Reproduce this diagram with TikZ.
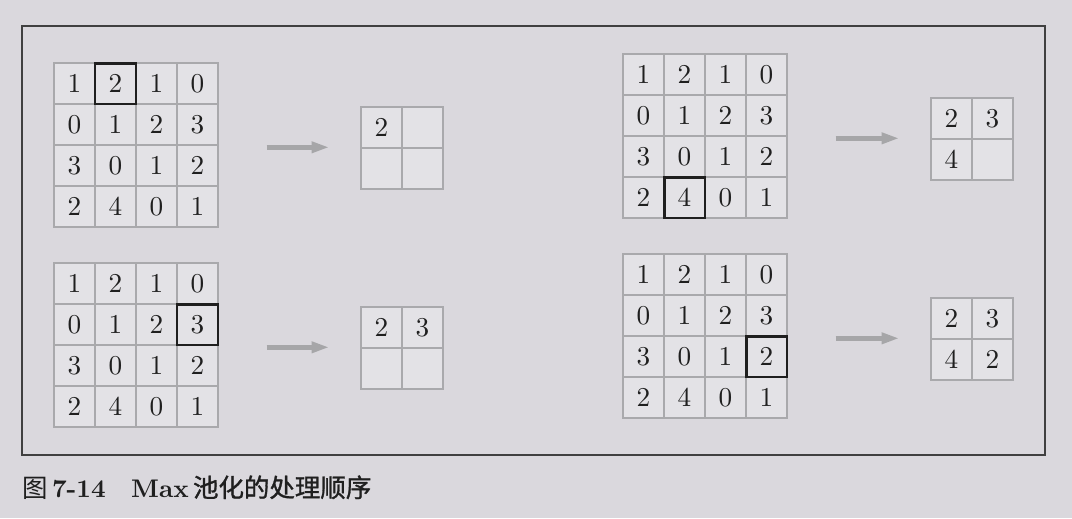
\documentclass[tikz,border=0pt]{standalone}
\usepackage{fontspec}
\newfontfamily\cjk{Noto Sans CJK SC}
\newfontfamily\cjkmid{Noto Sans CJK SC}[FakeBold=1.2]
\newfontfamily\cellfont{lmroman10-regular.otf}
\newfontfamily\capfont{lmroman10-bold.otf}
\usetikzlibrary{positioning,calc,arrows.meta}
\definecolor{bg}{HTML}{DAD8DD}
\definecolor{cellfill}{HTML}{E3E2E6}
\definecolor{gridline}{HTML}{A9A9AC}
\definecolor{arrowgray}{HTML}{A6A6A8}

\begin{document}
\begin{tikzpicture}[x=0.02cm,y=-0.02cm,
    cell/.style={draw=gridline,line width=0.8pt,fill=cellfill,minimum size=0.82cm,
                 inner sep=0pt,text=black!88,font=\cellfont\fontsize{15.5}{18}\selectfont},
    hlbox/.style={draw=black!88,line width=1.7pt,minimum size=0.82cm,inner sep=0pt},
    flow/.style={draw=arrowgray,line width=2.6pt,-{Triangle[length=10pt,width=6pt]}}]
  \fill[bg] (0,0) rectangle (1072,518);
  \draw[black!75,line width=0.8pt] (22,26) rectangle (1045,455);
  % input grids
  \foreach \p/\ox/\oy in {A/54/63, B/54/263, C/623/54, D/623/254}
    \foreach \row [count=\rw] in {{1,2,1,0},{0,1,2,3},{3,0,1,2},{2,4,0,1}}
      \foreach \v [count=\cl] in \row
        \node[cell] (\p-\rw-\cl) at ({\ox-20.5+41*\cl},{\oy-20.5+41*\rw}) {\v};
  % current window
  \foreach \p/\rw/\cl in {A/1/2, B/2/4, C/4/2, D/3/4}
    \node[hlbox] (hl\p) at (\p-\rw-\cl) {};
  % output grids
  \foreach \p/\ox/\oy/\a/\b/\c/\d in {A/361/107/2/{}/{}/{}, B/361/307/2/3/{}/{},
                                     C/931/98/2/3/4/{}, D/931/298/2/3/4/2}{
    \node[cell] (o\p-1-1) at (\ox+20.5,\oy+20.5) {\a};
    \node[cell] (o\p-1-2) at (\ox+61.5,\oy+20.5) {\b};
    \node[cell] (o\p-2-1) at (\ox+20.5,\oy+61.5) {\c};
    \node[cell] (o\p-2-2) at (\ox+61.5,\oy+61.5) {\d};
  }
  \foreach \p in {A,B,C,D}
    \draw[flow] ([xshift=0.96cm]\p-2-4.east |- o\p-2-1.north west) -- ([xshift=-0.62cm]o\p-2-1.north west);
  % caption
  \node[anchor=base west,inner sep=0pt,text=black!88,font=\fontsize{14.5}{17}\selectfont] (cap) at (22,497)
    {{\cjk 图}\,{\capfont 7-14}\hspace{1em}{\capfont Max}\,{\cjkmid 池化的处理顺序}};
\end{tikzpicture}
\end{document}
